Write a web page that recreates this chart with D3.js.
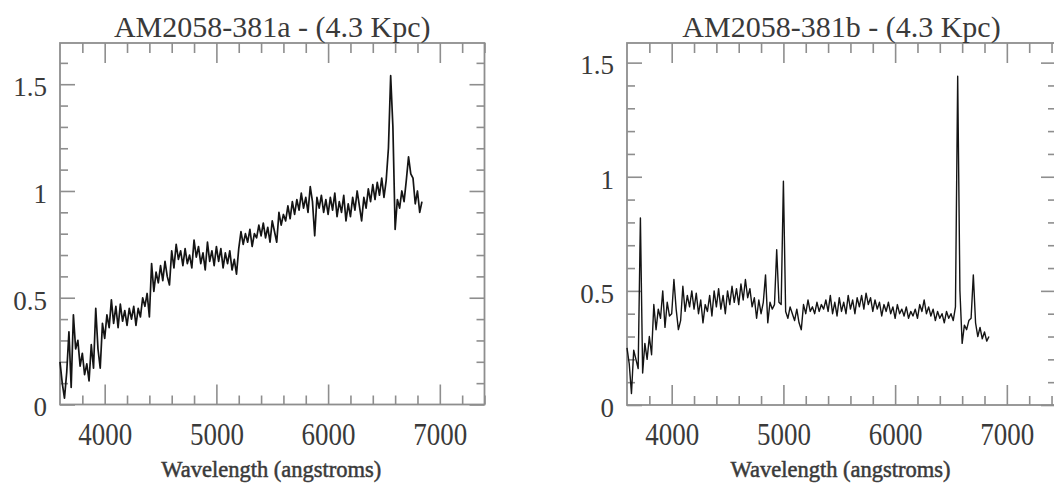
<!DOCTYPE html>
<html>
<head>
<meta charset="utf-8">
<script src="https://cdn.jsdelivr.net/npm/d3@7"></script>
<style>
  body { margin: 0; background: #fff; }
</style>
</head>
<body>
<div id="chart"></div>
<script>
// spectra sampled every 20 angstroms, 3600 .. 6840
const wavelength = d3.range(3600, 6841, 20);

const fluxA = [
  0.20, 0.10, 0.03, 0.15, 0.34, 0.08, 0.42, 0.26, 0.30, 0.18, // 3600
  0.24, 0.14, 0.19, 0.11, 0.28, 0.17, 0.45, 0.26, 0.17, 0.38, // 3800
  0.31, 0.42, 0.36, 0.49, 0.38, 0.46, 0.36, 0.47, 0.39, 0.44, // 4000
  0.37, 0.45, 0.40, 0.46, 0.37, 0.45, 0.41, 0.50, 0.46, 0.52, // 4200
  0.41, 0.66, 0.53, 0.62, 0.57, 0.65, 0.58, 0.67, 0.60, 0.56, // 4400
  0.72, 0.64, 0.75, 0.68, 0.72, 0.65, 0.73, 0.66, 0.70, 0.64, // 4600
  0.77, 0.69, 0.74, 0.66, 0.71, 0.63, 0.76, 0.67, 0.72, 0.65, // 4800
  0.74, 0.67, 0.73, 0.64, 0.71, 0.66, 0.72, 0.63, 0.68, 0.61, // 5000
  0.73, 0.81, 0.75, 0.80, 0.76, 0.82, 0.74, 0.80, 0.78, 0.84, // 5200
  0.79, 0.85, 0.78, 0.83, 0.76, 0.86, 0.81, 0.76, 0.90, 0.84, // 5400
  0.89, 0.86, 0.93, 0.87, 0.95, 0.89, 0.96, 0.91, 0.99, 0.92, // 5600
  0.97, 0.90, 1.02, 0.95, 0.79, 0.97, 0.92, 0.98, 0.90, 0.96, // 5800
  0.89, 0.97, 0.91, 0.99, 0.88, 0.95, 0.90, 0.98, 0.86, 0.94, // 6000
  0.88, 0.97, 0.91, 1.00, 0.93, 0.86, 0.97, 0.92, 1.01, 0.95, // 6200
  1.03, 0.96, 1.04, 0.98, 1.06, 0.97, 1.05, 1.20, 1.54, 1.30, // 6400
  0.82, 0.96, 0.92, 1.00, 0.95, 1.05, 1.16, 1.08, 1.06, 0.94, // 6600
  1.00, 0.90, 0.95                                            // 6800
];

const fluxB = [
  0.25, 0.18, 0.05, 0.24, 0.20, 0.16, 0.82, 0.14, 0.27, 0.20, // 3600
  0.30, 0.22, 0.44, 0.33, 0.42, 0.38, 0.50, 0.34, 0.45, 0.39, // 3800
  0.40, 0.55, 0.42, 0.33, 0.37, 0.52, 0.41, 0.48, 0.43, 0.50, // 4000
  0.42, 0.49, 0.40, 0.46, 0.36, 0.44, 0.41, 0.48, 0.39, 0.50, // 4200
  0.43, 0.51, 0.42, 0.48, 0.40, 0.50, 0.44, 0.52, 0.45, 0.51, // 4400
  0.44, 0.53, 0.46, 0.55, 0.47, 0.51, 0.43, 0.47, 0.38, 0.46, // 4600
  0.40, 0.45, 0.57, 0.36, 0.45, 0.42, 0.44, 0.68, 0.45, 0.44, // 4800
  0.98, 0.41, 0.38, 0.43, 0.40, 0.37, 0.42, 0.36, 0.33, 0.44, // 5000
  0.40, 0.46, 0.41, 0.43, 0.40, 0.45, 0.41, 0.44, 0.42, 0.46, // 5200
  0.41, 0.48, 0.40, 0.45, 0.39, 0.47, 0.41, 0.45, 0.40, 0.48, // 5400
  0.42, 0.46, 0.40, 0.47, 0.43, 0.48, 0.42, 0.49, 0.44, 0.47, // 5600
  0.41, 0.46, 0.42, 0.45, 0.39, 0.44, 0.41, 0.45, 0.40, 0.43, // 5800
  0.38, 0.44, 0.40, 0.42, 0.39, 0.43, 0.38, 0.41, 0.39, 0.42, // 6000
  0.38, 0.44, 0.41, 0.46, 0.40, 0.43, 0.39, 0.42, 0.37, 0.41, // 6200
  0.38, 0.40, 0.36, 0.41, 0.38, 0.40, 0.37, 0.43, 1.44, 0.50, // 6400
  0.27, 0.35, 0.33, 0.37, 0.38, 0.57, 0.36, 0.30, 0.34, 0.29, // 6600
  0.32, 0.28, 0.30                                            // 6800
];

const titles = ["AM2058-381a - (4.3 Kpc)", "AM2058-381b - (4.3 Kpc)"];
const xLabel = "Wavelength (angstroms)";
const xMajor = [4000, 5000, 6000, 7000];
const yMajor = [0, 0.5, 1, 1.5];

const width = 1054,
  height = 485,
  frameColor = "#8e8e8e",
  textColor = "#3a3a3a";

// panel layout (pixels) and axis ranges
const panels = [
  { flux: fluxA, title: titles[0], left: 60, right: 484.5, top: 43, bottom: 404.5, xMax: 7400, yMax: 1.693, lw: 1.7 },
  { flux: fluxB, title: titles[1], left: 627, right: 1056, top: 43, bottom: 405, xMax: 7440, yMax: 1.586, lw: 1.4 },
];

const svg = d3.select("#chart").append("svg").attr("width", width).attr("height", height);
svg.append("rect").attr("width", width).attr("height", height).attr("fill", "#fff");

panels.forEach((p) => {
  const x = d3.scaleLinear().domain([3600, p.xMax]).range([p.left, p.right]),
    y = d3.scaleLinear().domain([0, p.yMax]).range([p.bottom, p.top]);

  const xMinor = d3.range(3800, p.xMax + 1, 200).filter((v) => !xMajor.includes(v)),
    yMinor = d3.range(1, Math.floor(p.yMax * 10) + 1).map((v) => v / 10).filter((v) => !yMajor.includes(v));

  const g = svg.append("g");

  // frame
  g.append("rect")
    .attr("x", p.left)
    .attr("y", p.top)
    .attr("width", p.right - p.left)
    .attr("height", p.bottom - p.top)
    .attr("fill", "none")
    .attr("stroke", frameColor)
    .attr("stroke-width", 1.8);

  // ticks, all pointing inwards
  const axes = [
    { a: d3.axisBottom(x).tickValues(xMajor).tickSize(-20).tickPadding(14.5).tickFormat((d) => d), t: `translate(0,${p.bottom})`, stretch: true },
    { a: d3.axisBottom(x).tickValues(xMinor).tickSize(-9).tickFormat(""), t: `translate(0,${p.bottom})` },
    { a: d3.axisTop(x).tickValues(xMajor).tickSize(-20).tickFormat(""), t: `translate(0,${p.top})` },
    { a: d3.axisTop(x).tickValues(xMinor).tickSize(-10).tickFormat(""), t: `translate(0,${p.top})` },
    { a: d3.axisLeft(y).tickValues(yMajor).tickSize(-15).tickPadding(13).tickFormat((d) => d), t: `translate(${p.left},0)` },
    { a: d3.axisLeft(y).tickValues(yMinor).tickSize(-8).tickFormat(""), t: `translate(${p.left},0)` },
    { a: d3.axisRight(y).tickValues(yMajor).tickSize(-15).tickFormat(""), t: `translate(${p.right},0)` },
    { a: d3.axisRight(y).tickValues(yMinor).tickSize(-8).tickFormat(""), t: `translate(${p.right},0)` },
  ];
  axes.forEach((ax) => {
    const ag = g.append("g").attr("transform", ax.t).call(ax.a.tickSizeOuter(0));
    ag.select(".domain").remove();
    ag.attr("color", frameColor);
    ag.selectAll("line").attr("stroke-width", 1.6);
    ag.selectAll("text")
      .attr("fill", textColor)
      .style("font-family", "'Liberation Serif', serif")
      .style("font-size", "27px");
    if (ax.stretch) ag.selectAll("text").attr("transform", "scale(1,1.2)");
  });
  g.selectAll("text").filter(function () { return this.getAttribute("dy") === "0.32em"; }).attr("dy", "0.42em");

  // title and axis label
  g.append("text")
    .attr("x", (p.left + p.right) / 2)
    .attr("y", 36.5)
    .attr("text-anchor", "middle")
    .attr("fill", textColor)
    .style("font-family", "'Liberation Serif', serif")
    .style("font-size", "30px")
    .text(p.title);
  g.append("text")
    .attr("x", (p.left + p.right) / 2 - 1)
    .attr("y", 477)
    .attr("text-anchor", "middle")
    .attr("fill", textColor)
    .attr("stroke", textColor)
    .attr("stroke-width", 0.5)
    .style("font-family", "'Liberation Serif', serif")
    .style("font-size", "22.5px")
    .text(xLabel);

  // spectrum
  const points = wavelength.map((w, i) => ({ w: w, f: p.flux[i] }));
  const line = d3.line().x((d) => x(d.w)).y((d) => y(d.f));
  g.append("path")
    .datum(points)
    .attr("d", line)
    .attr("fill", "none")
    .attr("stroke", "#141414")
    .attr("stroke-width", p.lw)
    .attr("stroke-linejoin", "round");
});
</script>
</body>
</html>
